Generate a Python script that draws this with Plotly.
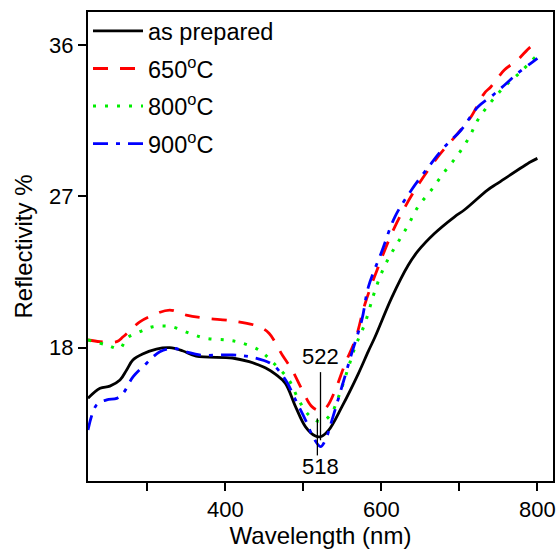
import plotly.graph_objects as go

# ---- data ----
wl_prep = [224, 239.5, 252, 265, 273.5, 281.5, 294, 311.7, 328.7, 345, 362.7, 409, 430.6, 443, 451.8, 465, 477, 490,
           502.8, 515.5, 522, 532.5, 549.5, 570.7, 583.4, 592, 613, 634.4, 647, 668.4, 693.8, 706.6, 736, 749, 791.5, 800]
r_prep = [15.0, 15.59, 15.72, 16.08, 16.68, 17.27, 17.63, 17.92, 18.0, 17.82, 17.5, 17.39, 17.17, 16.97, 16.79, 16.4,
          15.88, 14.5, 13.3, 12.75, 12.71, 13.1, 14.5, 16.48, 17.8, 18.65, 20.95, 22.9, 23.75, 24.8, 25.78, 26.2, 27.37,
          27.77, 29.05, 29.25]

wl_650 = [224, 239.5, 260.8, 269, 290.4, 307.4, 328.7, 350, 375.4, 409, 443.3, 456, 473, 485.7, 498.5, 511, 522, 530.3,
          541, 553.7, 566.5, 579, 596, 617.4, 643, 672.6, 698, 715, 732, 740.5, 757.6, 774.5, 791.5, 800]
r_650 = [18.46, 18.36, 18.36, 18.65, 19.54, 19.94, 20.24, 19.94, 19.75, 19.6, 19.25, 18.86, 17.57, 16.67, 15.49, 14.5,
         14.26, 14.5, 15.49, 17.07, 18.46, 20.6, 22.8, 25.2, 27.37, 29.35, 30.74, 31.73, 33.12, 33.51, 34.5, 35.1,
         35.89, 36.09]

wl_800 = [224, 248, 265, 273.5, 290.4, 307.4, 330.8, 354, 375.4, 401, 418, 443.3, 460, 481.5, 494, 507, 522, 534.6,
          545.2, 558, 566.5, 579, 590, 598.3, 609, 621.7, 634.4, 647, 664, 681, 698, 713, 723.6, 740.5, 757.6, 778.7, 800]
r_800 = [18.46, 18.16, 17.96, 18.56, 18.95, 19.25, 19.25, 18.86, 18.56, 18.46, 18.32, 17.86, 17.17, 16.08, 14.9, 14.0,
         13.6, 14.0, 15.09, 16.87, 18.06, 19.45, 21.13, 22.22, 23.3, 24.3, 25.29, 26.38, 27.37, 28.46, 29.45, 30.54,
         31.53, 32.6, 33.5, 34.4, 35.4]

wl_900 = [224, 235, 248, 260.8, 269, 281.9, 299, 316, 333, 350, 367, 409.3, 434.8, 460.3, 477.3, 490, 502.8, 513.4,
          522, 528.3, 536.7, 549.4, 562, 575, 583.4, 600.4, 617.4, 638.6, 664, 681, 702.3, 723.6, 742.7, 757.6, 774.5,
          791.5, 800]
r_900 = [13.11, 14.6, 14.9, 14.99, 15.29, 16.28, 17.07, 17.76, 17.96, 17.76, 17.57, 17.57, 17.43, 17.0, 16.08, 14.9,
         13.7, 12.62, 12.12, 12.52, 13.7, 15.68, 17.67, 19.65, 21.62, 23.7, 25.78, 27.37, 28.96, 29.94, 30.94, 32.3,
         33.0, 33.6, 34.3, 34.9, 35.2]

series_names = ["as prepared", "650<sup>o</sup>C", "800<sup>o</sup>C", "900<sup>o</sup>C"]
x_tickvals = [400, 600, 800]
x_minor_tickvals = [300, 500, 700]
y_tickvals = [18, 27, 36]
peak_upper = 522
peak_lower = 518

FONT = "Liberation Sans, Arial, sans-serif"

fig = go.Figure()
styles = [
    dict(color="black", width=2.8, dash="solid"),
    dict(color="#ff0000", width=2.8, dash="15px,12px"),
    dict(color="#00ee00", width=3, dash="3px,9px"),
    dict(color="#0000ff", width=2.8, dash="15px,8px,4px,8px"),
]
for i, (xs, ys) in enumerate([(wl_prep, r_prep), (wl_650, r_650), (wl_800, r_800), (wl_900, r_900)]):
    fig.add_trace(go.Scatter(x=xs, y=ys, mode="lines", name=series_names[i], line=styles[i],
                             line_shape="spline", legendgroup=f"g{i}"))

# annotation markers for dip positions
fig.add_shape(type="line", x0=peak_upper, x1=peak_upper, y0=16.55, y1=12.5, xref="x", yref="y",
              line=dict(color="black", width=1.3))
fig.add_shape(type="line", x0=peak_lower, x1=peak_lower, y0=13.8, y1=11.6, xref="x", yref="y",
              line=dict(color="black", width=1.3))
fig.add_annotation(x=peak_upper, y=17.47, text=str(peak_upper), showarrow=False,
                   font=dict(size=22, color="black", family=FONT))
fig.add_annotation(x=peak_upper, y=10.93, text=str(peak_lower), showarrow=False,
                   font=dict(size=22, color="black", family=FONT))

axis_common = dict(showline=True, linecolor="black", linewidth=2, mirror=True, showgrid=False, zeroline=False,
                   ticks="outside", ticklen=8, tickwidth=1.5, tickcolor="black",
                   tickfont=dict(size=22, color="black", family=FONT))
fig.update_xaxes(range=[224, 820], tickvals=x_tickvals, ticktext=[str(v) for v in x_tickvals],
                 minor=dict(tickvals=x_minor_tickvals, ticks="outside", ticklen=8, tickwidth=1.5, tickcolor="black"),
                 title=dict(text="Wavelength (nm)", font=dict(size=24, color="black", family=FONT), standoff=4),
                 **axis_common)
fig.update_yaxes(range=[10.08, 37.95], tickvals=y_tickvals,
                 title=dict(text="Reflectivity %", font=dict(size=24, color="black", family=FONT), standoff=10),
                 **axis_common)

fig.update_layout(
    width=560, height=549,
    margin=dict(l=88, r=4, t=12, b=68),
    plot_bgcolor="white", paper_bgcolor="white",
    showlegend=True,
    legend=dict(x=0.0, y=1.006, xanchor="left", yanchor="top", bgcolor="rgba(0,0,0,0)",
                font=dict(size=23.5, color="black", family=FONT), tracegroupgap=4, itemwidth=50),
    font=dict(family=FONT, color="black"),
)

fig.write_html("out.html", config={"displayModeBar": False},
               post_script="document.body.style.margin='0';document.body.style.overflow='hidden';")
